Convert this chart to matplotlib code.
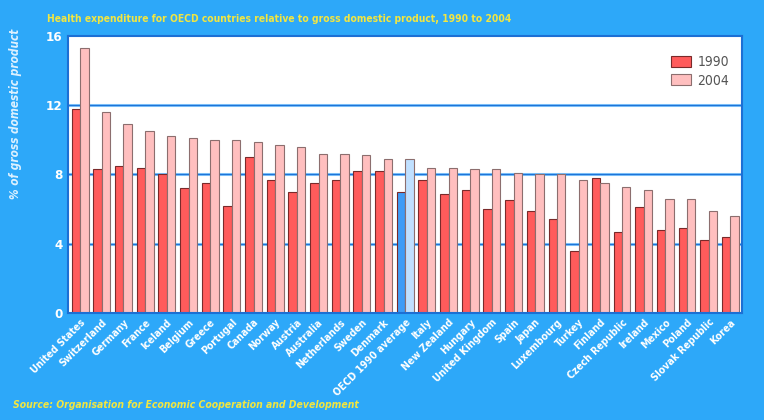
import matplotlib.pyplot as plt
import numpy as np

countries = ["United States", "Switzerland", "Germany", "France", "Iceland", "Belgium",
             "Greece", "Portugal", "Canada", "Norway", "Austria", "Australia",
             "Netherlands", "Sweden", "Denmark", "OECD 1990 average", "Italy",
             "New Zealand", "Hungary", "United Kingdom", "Spain", "Japan",
             "Luxembourg", "Turkey", "Finland", "Czech Republic", "Ireland",
             "Mexico", "Poland", "Slovak Republic", "Korea"]
vals_1990 = [11.8, 8.3, 8.5, 8.4, 8.0, 7.2, 7.5, 6.2, 9.0, 7.7, 7.0, 7.5,
             7.7, 8.2, 8.2, 7.0, 7.7, 6.9, 7.1, 6.0, 6.5, 5.9, 5.4, 3.6,
             7.8, 4.7, 6.1, 4.8, 4.9, 4.2, 4.4]
vals_2004 = [15.3, 11.6, 10.9, 10.5, 10.2, 10.1, 10.0, 10.0, 9.9, 9.7, 9.6, 9.2,
             9.2, 9.1, 8.9, 8.9, 8.4, 8.4, 8.3, 8.3, 8.1, 8.0, 8.0, 7.7,
             7.5, 7.3, 7.1, 6.6, 6.6, 5.9, 5.6]

plt.rcParams['font.family'] = ['DejaVu Sans']
plt.rcParams['font.stretch'] = 'condensed'

bg = "#2DA8F9"
fig = plt.figure(figsize=(7.64, 4.20), dpi=100, facecolor=bg)
ax = fig.add_axes([0.089, 0.2548, 0.882, 0.6595])

x = np.arange(len(countries))
w = 0.39
c90 = ["#FF5B5B"] * len(countries)
c04 = ["#FFBFBF"] * len(countries)
avg = countries.index("OECD 1990 average")
c90[avg] = "#3E9CF6"
c04[avg] = "#C0E0FF"

# grid lines: light line on top, dark one just under it
for yv in [4, 8, 12]:
    ax.axhline(yv, color="#8FD0FF", lw=2.2, zorder=0)
    ax.axhline(yv, color="#1E74D8", lw=1.0, zorder=0)

ax.bar(x - w / 2, vals_1990, w, color=c90, edgecolor="#7A2A2A", linewidth=0.8, label="1990", zorder=2)
ax.bar(x + w / 2, vals_2004, w, color=c04, edgecolor="#8C6E6E", linewidth=0.8, label="2004", zorder=2)

ax.set_xlim(-0.56, len(countries) - 1 + 0.53)
ax.set_ylim(0, 16)
ax.set_yticks([0, 4, 8, 12, 16])
ax.tick_params(axis="y", length=0, colors="white", labelsize=9.5, pad=4)
ax.set_yticklabels(["0", "4", "8", "12", "16"], fontweight="bold")
ax.set_xticks(x)
ax.set_xticklabels(countries, rotation=45, ha="right", rotation_mode="anchor",
                   color="white", fontsize=7.5, fontweight="bold")
ax.tick_params(axis="x", length=0, pad=3)
for s in ax.spines.values():
    s.set_color("#1C6FD4")
    s.set_linewidth(1.5)

ax.set_ylabel("% of gross domestic product", color="#DDF1FF", fontsize=8.5,
              fontstyle="italic", fontweight="bold")
ax.yaxis.set_label_coords(-0.068, 0.72)

leg = ax.legend(loc="upper right", frameon=False, fontsize=10, handlelength=1.4,
                handleheight=0.8, handletextpad=0.5, labelspacing=0.3,
                bbox_to_anchor=(1.0, 0.975))
for t in leg.get_texts():
    t.set_color("#555555")

fig.text(0.062, 0.948, "Health expenditure for OECD countries relative to gross domestic product, 1990 to 2004",
         color="#F2E640", fontsize=7.4, fontweight="bold", va="baseline")
fig.text(0.017, 0.029, "Source: Organisation for Economic Cooperation and Development",
         color="#F2E640", fontsize=7.5, fontweight="bold", fontstyle="italic", va="baseline")

fig.savefig("out.png", dpi=100, facecolor=bg)
